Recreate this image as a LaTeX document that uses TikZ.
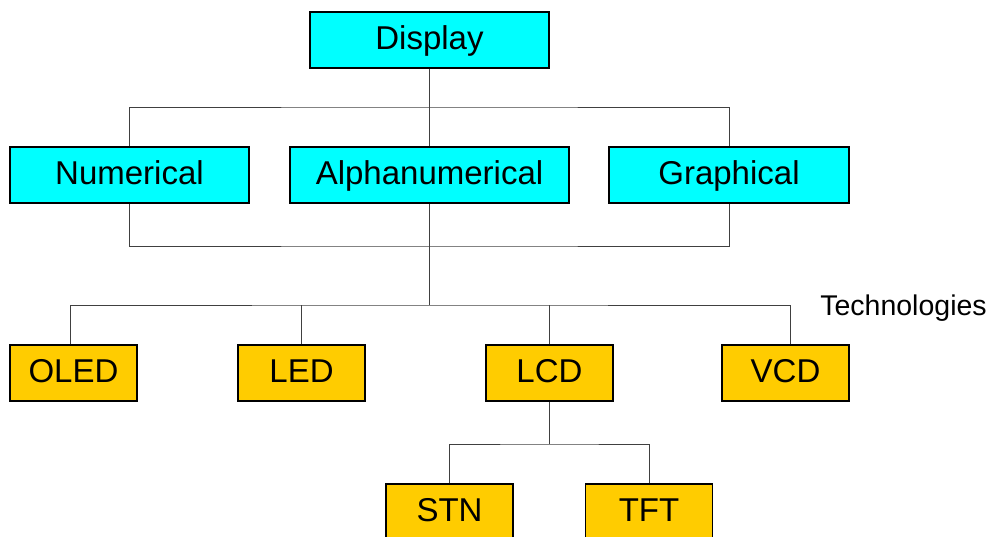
\documentclass[tikz,border=0pt]{standalone}
\usepackage{fontspec}
\setmainfont{Liberation Sans}
\definecolor{dispcyan}{RGB}{0,255,255}
\definecolor{techgold}{RGB}{255,204,0}
\begin{document}
\begin{tikzpicture}[x=1pt, y=-1pt,
  box/.style={draw=black, line width=1.6pt, minimum height=56pt, inner sep=0pt,
    text height=26.6pt, text depth=7.6pt, font=\fontsize{33}{38}\selectfont},
  kind/.style={box, fill=dispcyan},
  tech/.style={box, fill=techgold, minimum width=127pt},
  link/.style={draw=black!75, line width=0.9pt}]
\clip (0,0) rectangle (991,537);

\node (Display) [kind, minimum width=239pt] at (429.5,40) {Display};
\node (Numerical) [kind, minimum width=239pt] at (129.5,175) {Numerical};
\node (Alpha) [kind, minimum width=279pt] at (429.5,175) {Alphanumerical};
\node (Graphical) [kind, minimum width=240pt] at (729,175) {Graphical};

\node (OLED) [tech] at (73.5,373) {OLED};
\node (LED) [tech] at (301.5,373) {LED};
\node (LCD) [tech] at (549.5,373) {LCD};
\node (VCD) [tech] at (785.5,373) {VCD};
\node (STN) [tech] at (449.5,512) {STN};
\node (TFT) [tech] at (649,512) {TFT};

\node (Tech) [font=\fontsize{28.5}{34}\selectfont] at (903.5,308) {Technologies};

\coordinate (kindbus) at (429.5,107);
\coordinate (joinbus) at (429.5,246);
\coordinate (techbus) at (429.5,305);
\coordinate (lcdbus) at (549.5,444);

\draw[link] (Display) -- (Alpha);
\draw[link] (Numerical.north) |- (kindbus) -| (Graphical.north);
\draw[link] (Numerical.south) |- (joinbus) -| (Graphical.south);
\draw[link] (Alpha) -- (joinbus) -- (techbus);
\draw[link] ([xshift=-3.5pt]OLED.north) |- (techbus) -| ([xshift=4.5pt]VCD.north);
\draw[link] (LED.north) -- (LED.north |- techbus);
\draw[link] (LCD.north) -- (LCD.north |- techbus);
\draw[link] (LCD) -- (lcdbus);
\draw[link] (STN.north) |- (lcdbus) -| (TFT.north);
\end{tikzpicture}
\end{document}
